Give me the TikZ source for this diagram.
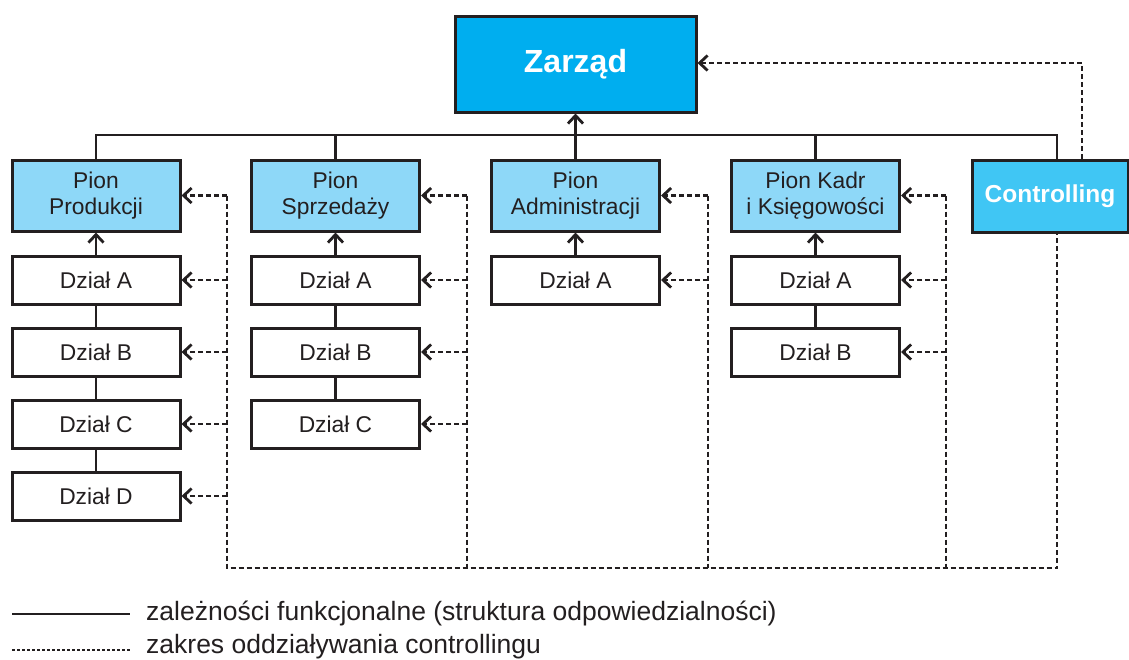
\documentclass[tikz,border=0pt]{standalone}
\usepackage{fontspec}
\setmainfont{Liberation Sans}
\usetikzlibrary{arrows.meta}
\definecolor{bord}{HTML}{231F20}
\definecolor{topblue}{HTML}{00AEEF}
\definecolor{pionblue}{HTML}{8ED8F8}
\definecolor{ctrlblue}{HTML}{40C6F4}
\tikzset{
  box/.style={draw=bord, line width=3pt, rectangle, inner sep=0pt, align=center, font=\fontsize{22.8}{26}\selectfont, text=bord},
  pion/.style={box, fill=pionblue, minimum width=168pt, minimum height=71pt},
  dzial/.style={box, fill=white, minimum width=168pt, minimum height=48pt},
  solidln/.style={draw=bord, line width=2.8pt},
  dashln/.style={draw=bord, line width=2.6pt, dash pattern=on 5pt off 3pt},
  tip/.style={-{Straight Barb[length=8pt,width=15pt,line width=2.8pt]}},
}
\begin{document}
\begin{tikzpicture}[x=1pt,y=-1pt]
\useasboundingbox (0,0) rectangle (1129,659);
% top
\node[box, fill=topblue, minimum width=241pt, minimum height=96pt, text=white, font=\fontsize{32}{36}\selectfont\bfseries] (zarzad) at (575.5,64) {Zarząd};
% pion boxes
\node[pion] (p1) at (96,195.5) {Pion\\Produkcji};
\node[pion] (p2) at (335.5,195.5) {Pion\\Sprzedaży};
\node[pion] (p3) at (575.5,195.5) {Pion\\Administracji};
\node[pion] (p4) at (815.5,195.5) {Pion Kadr\\i Księgowości};
\node[box, fill=ctrlblue, minimum width=156pt, minimum height=72pt, text=white, font=\fontsize{24.5}{28}\selectfont\bfseries] (ctrl) at (1050,196) {Controlling};
% dzialy
\node[dzial] (a1) at (96,280) {Dział A};
\node[dzial] (b1) at (96,352) {Dział B};
\node[dzial] (c1) at (96,424) {Dział C};
\node[dzial] (d1) at (96,496) {Dział D};
\node[dzial] (a2) at (335.5,280) {Dział A};
\node[dzial] (b2) at (335.5,352) {Dział B};
\node[dzial] (c2) at (335.5,424) {Dział C};
\node[dzial] (a3) at (575.5,280) {Dział A};
\node[dzial] (a4) at (815.5,280) {Dział A};
\node[dzial] (b4) at (815.5,352) {Dział B};
% bus
\coordinate (busL) at (96,135);
\coordinate (busR) at (1057,135);
\draw[solidln] (p1.north) -- (busL) -- (busR) -- (ctrl.north -| busR);
\draw[solidln] (p2.north) -- (p2.north |- busL);
\draw[solidln] (p4.north) -- (p4.north |- busL);
\draw[solidln, tip] (p3.north) -- (zarzad.south);
% dzial chains
\draw[solidln, tip] (a1.north) -- (p1.south);
\draw[solidln] (a1) -- (b1) (b1) -- (c1) (c1) -- (d1);
\draw[solidln, tip] (a2.north) -- (p2.south);
\draw[solidln] (a2) -- (b2) (b2) -- (c2);
\draw[solidln, tip] (a3.north) -- (p3.south);
\draw[solidln, tip] (a4.north) -- (p4.south);
\draw[solidln] (a4) -- (b4);
% controlling dashed network
\coordinate (v1t) at (227,195.5);
\coordinate (v2t) at (467,195.5);
\coordinate (v3t) at (708,195.5);
\coordinate (v4t) at (946,195.5);
\coordinate (v1b) at (227,568);
\coordinate (v2b) at (467,568);
\coordinate (v3b) at (708,568);
\coordinate (v4b) at (946,568);
\coordinate (v5b) at (1057,568);
\draw[dashln] (v1t) -- (v1b) -- (v5b) -- (ctrl.south -| v5b);
\draw[dashln] (v2t) -- (v2b);
\draw[dashln] (v3t) -- (v3b);
\draw[dashln] (v4t) -- (v4b);
\foreach \n in {p1,a1,b1,c1,d1} \draw[dashln, tip] (\n.east -| v1t) -- (\n.east);
\foreach \n in {p2,a2,b2,c2} \draw[dashln, tip] (\n.east -| v2t) -- (\n.east);
\foreach \n in {p3,a3} \draw[dashln, tip] (\n.east -| v3t) -- (\n.east);
\foreach \n in {p4,a4,b4} \draw[dashln, tip] (\n.east -| v4t) -- (\n.east);
\coordinate (cz) at (1082,63);
\draw[dashln, tip] (ctrl.north -| cz) -- (cz) -- (zarzad.east |- cz);
% legend
\coordinate (l1a) at (12,614);
\coordinate (l1b) at (130,614);
\coordinate (l2a) at (12,650);
\coordinate (l2b) at (130,650);
\draw[solidln] (l1a) -- (l1b);
\draw[draw=bord, line width=2.2pt, dash pattern=on 3pt off 2pt] (l2a) -- (l2b);
\node[anchor=west, inner sep=0pt, text=bord, font=\fontsize{26.5}{30}\selectfont] (t1) at (146,613) {zależności funkcjonalne (struktura odpowiedzialności)};
\node[anchor=west, inner sep=0pt, text=bord, font=\fontsize{26.5}{30}\selectfont] (t2) at (146,647) {zakres oddziaływania controllingu};
\end{tikzpicture}
\end{document}
